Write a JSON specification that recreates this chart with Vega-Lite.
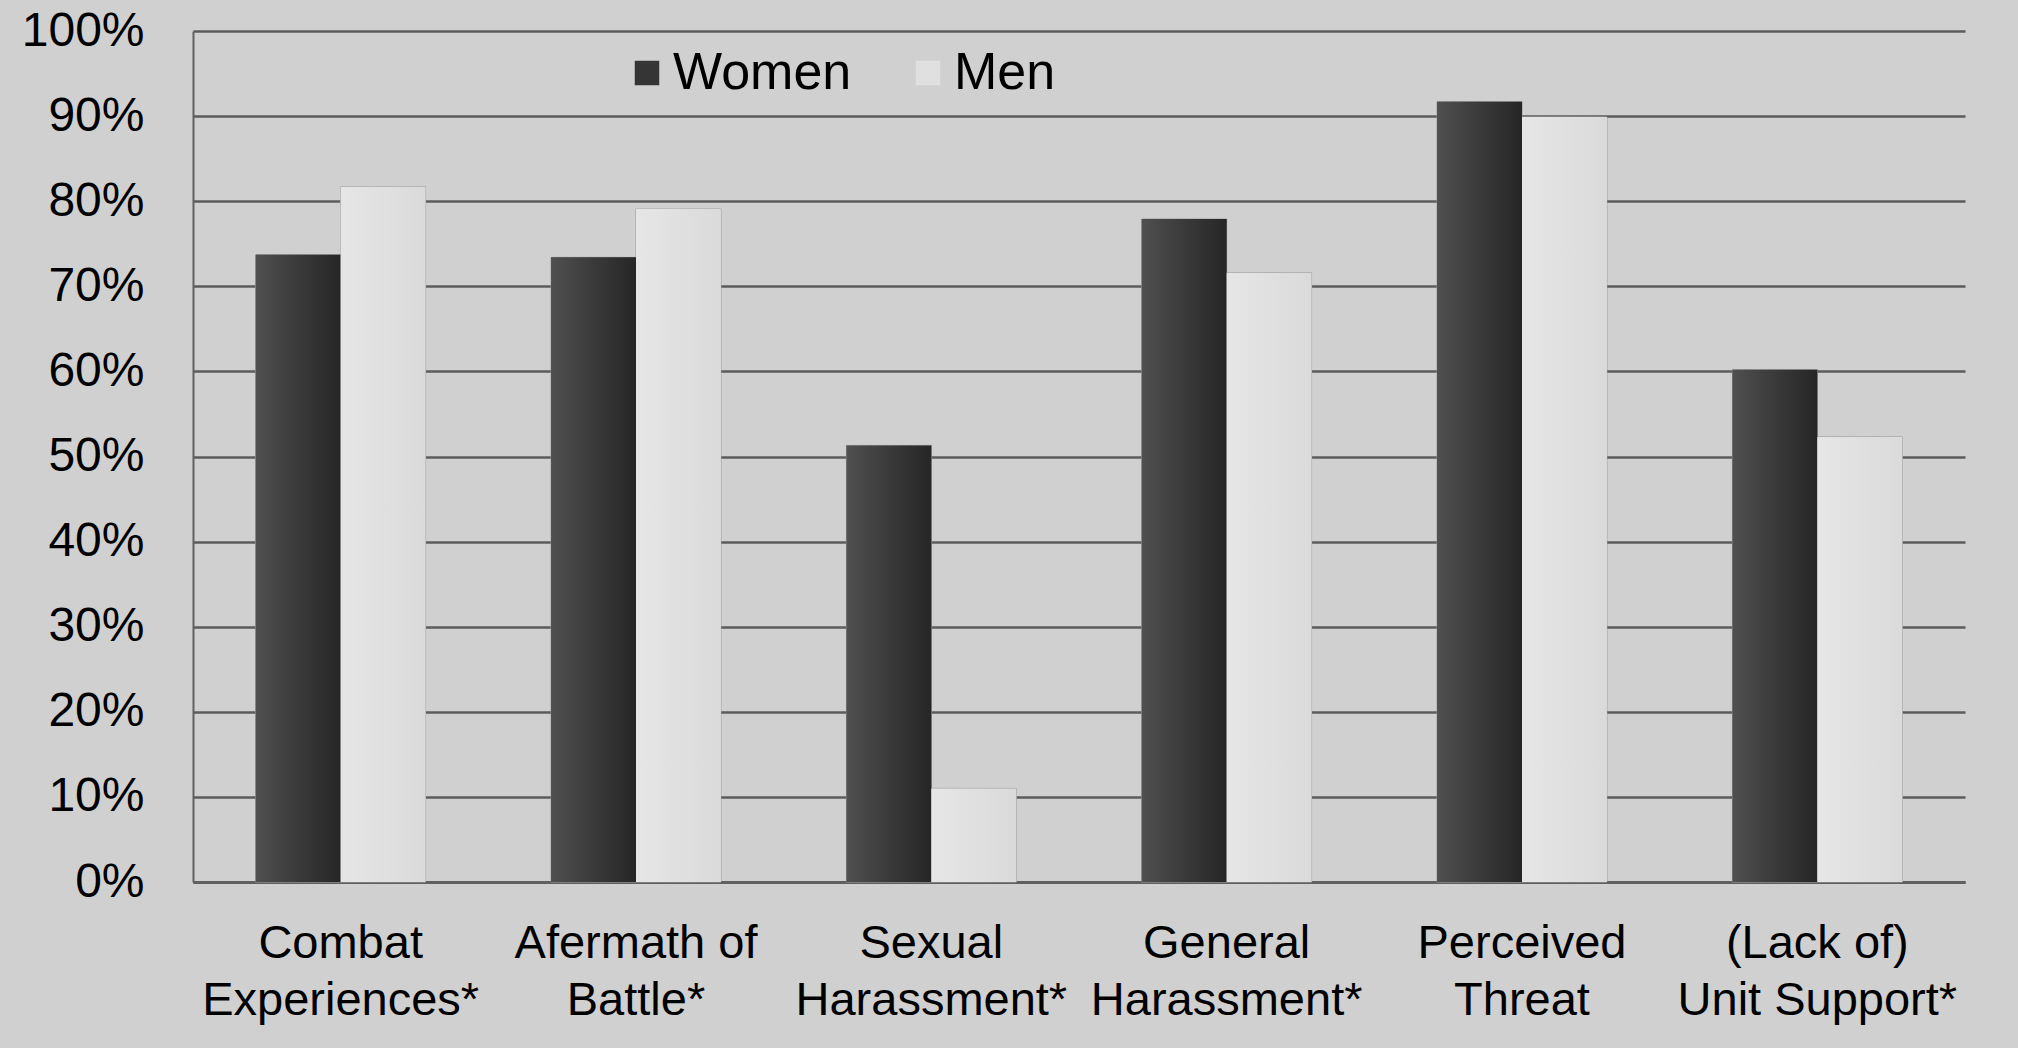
{
  "$schema": "https://vega.github.io/schema/vega-lite/v6.json",
  "width": 1772,
  "height": 851,
  "autosize": {"type": "none"},
  "padding": {"left": 193, "top": 31, "right": 53, "bottom": 166},
  "background": "#d0d0d0",
  "config": {
    "font": "Liberation Sans",
    "view": {"stroke": null},
    "axis": {"labelFont": "Liberation Sans", "labelColor": "#000000"}
  },
  "data": {
    "values": [
      {"category": "Combat|Experiences*", "group": "Women", "value": 0.737},
      {"category": "Combat|Experiences*", "group": "Men", "value": 0.817},
      {"category": "Afermath of|Battle*", "group": "Women", "value": 0.734},
      {"category": "Afermath of|Battle*", "group": "Men", "value": 0.791},
      {"category": "Sexual|Harassment*", "group": "Women", "value": 0.513},
      {"category": "Sexual|Harassment*", "group": "Men", "value": 0.110},
      {"category": "General|Harassment*", "group": "Women", "value": 0.779},
      {"category": "General|Harassment*", "group": "Men", "value": 0.716},
      {"category": "Perceived|Threat", "group": "Women", "value": 0.917},
      {"category": "Perceived|Threat", "group": "Men", "value": 0.899},
      {"category": "(Lack of)|Unit Support*", "group": "Women", "value": 0.602},
      {"category": "(Lack of)|Unit Support*", "group": "Men", "value": 0.523}
    ]
  },
  "encoding": {
    "x": {
      "field": "category",
      "type": "nominal",
      "sort": null,
      "title": null,
      "scale": {"paddingInner": 0.425, "paddingOuter": 0.2125},
      "axis": {
        "labelAngle": 0,
        "labelFontSize": 47,
        "labelLineHeight": 57,
        "labelPadding": 38,
        "labelLimit": 0,
        "labelExpr": "split(datum.label, '|')",
        "ticks": false,
        "domainColor": "#606060",
        "domainWidth": 3,
        "labelBaseline": "top"
      }
    },
    "xOffset": {"field": "group", "type": "nominal", "sort": ["Women", "Men"], "scale": {"domain": ["Women", "Men"]}},
    "y": {
      "field": "value",
      "type": "quantitative",
      "title": null,
      "scale": {"domain": [0, 1], "nice": false},
      "axis": {
        "format": ".0%",
        "values": [0, 0.1, 0.2, 0.3, 0.4, 0.5, 0.6, 0.7, 0.8, 0.9, 1],
        "labelFontSize": 48,
        "labelPadding": 49,
        "ticks": false,
        "grid": true,
        "gridColor": "#5c5c5c",
        "gridWidth": 2.5,
        "domainColor": "#606060",
        "domainWidth": 2
      }
    }
  },
  "layer": [
    {
      "mark": {"type": "bar", "stroke": "#9a9a9a", "strokeWidth": 1},
      "encoding": {
        "color": {
          "field": "group",
          "type": "nominal",
          "sort": ["Women", "Men"],
          "scale": {"domain": ["Women", "Men"], "range": ["#353535", "#e0e0e0"]},
          "legend": {
            "title": null,
            "orient": "none",
            "legendX": 428,
            "legendY": 16,
            "direction": "horizontal",
            "symbolType": "square",
            "symbolSize": 600,
            "symbolStrokeWidth": 0,
            "labelFontSize": 52,
            "labelOffset": 0,
            "labelLimit": 0,
            "columnPadding": 50,
            "labelColor": "#000000"
          }
        }
      }
    },
    {
      "transform": [{"filter": "datum.group === 'Women'"}],
      "mark": {
        "type": "bar",
        "color": {
          "gradient": "linear", "x1": 0, "x2": 1, "y1": 0, "y2": 0,
          "stops": [{"offset": 0, "color": "#505050"}, {"offset": 0.5, "color": "#3a3a3a"}, {"offset": 1, "color": "#262626"}]
        }
      }
    },
    {
      "transform": [{"filter": "datum.group === 'Men'"}],
      "mark": {
        "type": "bar",
        "color": {
          "gradient": "linear", "x1": 0, "x2": 1, "y1": 0, "y2": 0,
          "stops": [{"offset": 0, "color": "#e6e6e6"}, {"offset": 1, "color": "#dadada"}]
        }
      }
    }
  ]
}
